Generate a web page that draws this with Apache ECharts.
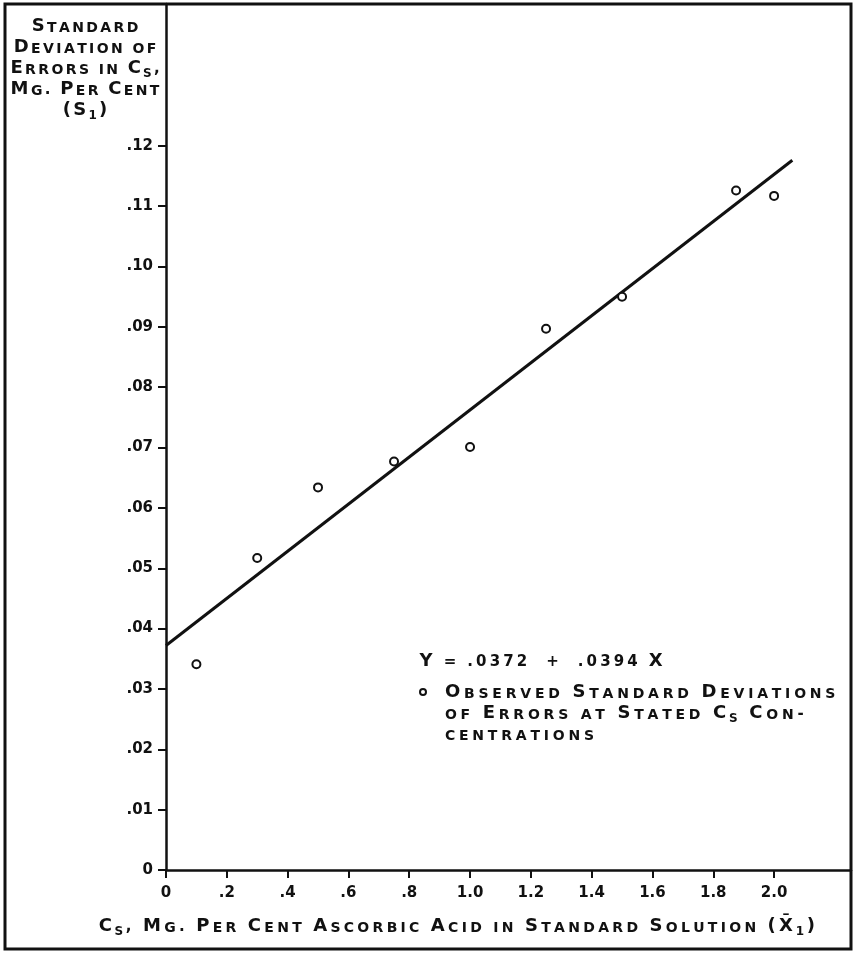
<!DOCTYPE html>
<html>
<head>
<meta charset="utf-8">
<title>Standard deviation of errors in Cs</title>
<script src="https://cdn.jsdelivr.net/npm/echarts@6/dist/echarts.min.js"></script>
<style>
  html, body { margin: 0; padding: 0; background: #fff; }
  #chart { width: 855px; height: 957px; }
</style>
</head>
<body>
<div id="chart"></div>
<script>
// observed standard deviations (open circles)
const concX = [0.1, 0.3, 0.5, 0.75, 1.0, 1.25, 1.5, 1.875, 2.0];
const stdDev = [0.0341, 0.0517, 0.0634, 0.0677, 0.0701, 0.0897, 0.0950, 0.1126, 0.1117];

// fitted line Y = .0372 + .0394 X, ends as drawn
const fitX = [0, 2.06];
const fitY = [0.0372, 0.1176];

// tick positions
const xTicks = [0, 0.2, 0.4, 0.6, 0.8, 1.0, 1.2, 1.4, 1.6, 1.8, 2.0];
const yTicks = [0, 0.01, 0.02, 0.03, 0.04, 0.05, 0.06, 0.07, 0.08, 0.09, 0.10, 0.11, 0.12];

const INK = '#111';
const FONT = 'DejaVu Sans';

// hand lettering in small caps: capitals large, lower case as small capitals, "_x" = subscript
function sc(str) {
  let out = '';
  for (let i = 0; i < str.length; i++) {
    let c = str[i];
    if (c === '\n') { out += '\n'; continue; }
    let st = 'B';
    if (c === '_') { c = str[++i].toUpperCase(); st = 'u'; }
    else if (c === ' ') st = 'sp';
    else if (c !== c.toUpperCase()) { c = c.toUpperCase(); st = 's'; }
    else if (/[0-9.,\-=+]/.test(c)) st = 'd';
    if (str[i + 1] === '\u0304') c += str[++i];
    out += '{' + st + '|' + c + '}';
  }
  return out;
}

function richStyles(pad) {
  const base = { fontFamily: FONT, fontWeight: 'bold', fill: INK, verticalAlign: 'bottom', lineHeight: 21 };
  return {
    B: Object.assign({}, base, { fontSize: 18, padding: [0, pad, 3, pad] }),
    s: Object.assign({}, base, { fontSize: 14, padding: [0, pad, 3, pad] }),
    d: Object.assign({}, base, { fontSize: 15, padding: [0, pad, 3, pad] }),
    sp: Object.assign({}, base, { fontSize: 14, padding: [0, pad, 3, pad] }),
    u: Object.assign({}, base, { fontSize: 12, padding: [0, 1, 0, 1] })
  };
}

function lettering(str, x, y, align, pad) {
  return {
    type: 'text',
    x: x,
    y: y,
    style: {
      text: sc(str),
      rich: richStyles(pad),
      fill: INK,
      fontFamily: FONT,
      textAlign: align,
      textVerticalAlign: 'top'
    }
  };
}

function fmtX(v) {
  if (v === 0) return '0';
  if (v < 1) return '.' + Math.round(v * 10);
  return v.toFixed(1);
}
function fmtY(v) {
  if (v === 0) return '0';
  return '.' + String(Math.round(v * 100)).padStart(2, '0');
}

const myChart = echarts.init(document.getElementById('chart'));

const option = {
  animation: false,
  backgroundColor: '#fff',
  grid: { left: 166, right: 4, top: 4, bottom: 87 },
  xAxis: {
    type: 'value',
    min: 0,
    max: 2.253,
    axisLine: { show: true, onZero: false, lineStyle: { color: INK, width: 2.5 } },
    axisTick: { show: true, length: 8, customValues: xTicks, lineStyle: { color: INK, width: 2 } },
    axisLabel: {
      customValues: xTicks,
      margin: 16,
      fontFamily: FONT,
      fontWeight: 'bold',
      fontSize: 15,
      color: INK,
      formatter: fmtX
    },
    splitLine: { show: false }
  },
  yAxis: {
    type: 'value',
    min: 0,
    max: 0.1435,
    axisLine: { show: true, onZero: false, lineStyle: { color: INK, width: 2.5 } },
    axisTick: { show: true, length: 8, customValues: yTicks, lineStyle: { color: INK, width: 2 } },
    axisLabel: {
      customValues: yTicks,
      margin: 13,
      fontFamily: FONT,
      fontWeight: 'bold',
      fontSize: 15,
      color: INK,
      formatter: fmtY
    },
    splitLine: { show: false }
  },
  series: [
    {
      name: 'fit',
      type: 'line',
      data: fitX.map((x, i) => [x, fitY[i]]),
      symbol: 'none',
      lineStyle: { color: INK, width: 3 },
      z: 2
    },
    {
      name: 'observed',
      type: 'scatter',
      data: concX.map((x, i) => [x, stdDev[i]]),
      symbol: 'circle',
      symbolSize: 8,
      itemStyle: { color: '#fff', borderColor: INK, borderWidth: 2, opacity: 1 },
      z: 3
    }
  ],
  graphic: [
    // outer frame
    {
      type: 'rect',
      shape: { x: 5, y: 4, width: 846, height: 945 },
      style: { fill: 'none', stroke: INK, lineWidth: 3 },
      z: 10
    },
    // y axis title
    lettering('Standard\nDeviation of\nErrors in C_s,\nMg. Per Cent\n(S_1)', 85, 17, 'center', 1.2),
    // equation of the fitted line
    lettering('Y = .0372  +  .0394 X', 418, 652, 'left', 1.55),
    // legend
    {
      type: 'circle',
      shape: { cx: 423, cy: 692, r: 3 },
      style: { fill: '#fff', stroke: INK, lineWidth: 2 }
    },
    lettering('Observed Standard Deviations\nof Errors at Stated C_s Con-\ncentrations', 443, 683, 'left', 1.9),
    // x axis title
    lettering('C_s, Mg. Per Cent Ascorbic Acid in Standard Solution (X\u0304_1)', 97, 917, 'left', 1.65)
  ]
};

option && myChart.setOption(option);
</script>
</body>
</html>
